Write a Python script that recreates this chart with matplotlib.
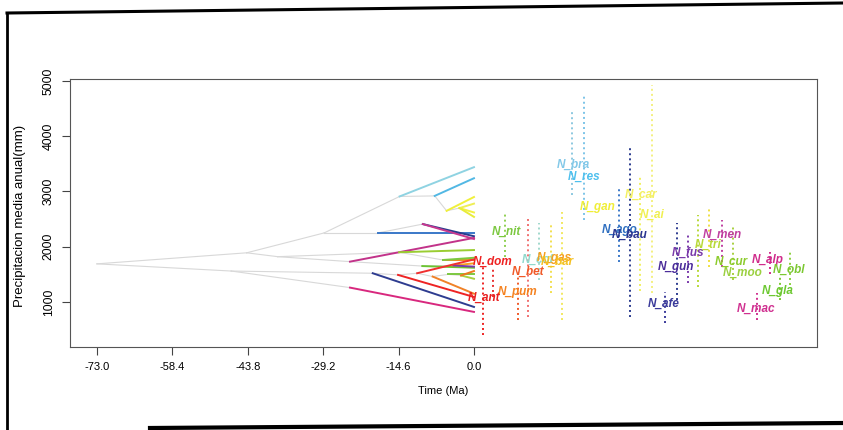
import matplotlib
matplotlib.use("Agg")
import matplotlib.pyplot as plt
from matplotlib import font_manager
from matplotlib.lines import Line2D

# Tree nodes: time (Ma) and reconstructed precipitation (mm)
node_names = ["R", "A", "L", "B", "M", "C", "C2", "Y", "Y2", "D", "N", "P", "G",
              "H", "I", "J", "Q", "U", "R1", "R2", "R3", "R4", "R5"]
node_time = [-73.0, -44.0, -47.0, -29.0, -38.0, -14.4, -7.6, -5.3, -2.8, -18.6, -9.9,
             -24.0, -14.5, -10.0, -6.0, -4.0, -24.0, -19.6, -14.7, -11.0, -8.0, -5.0, -2.5]
node_value = [1690, 1890, 1560, 2250, 1820, 2910, 2920, 2650, 2700, 2250, 2410,
              1730, 1900, 1650, 1760, 1660, 1260, 1520, 1490, 1520, 1460, 1500, 1480]

# Internal (grey) branches
gray_from = ["R", "R", "A", "A", "B", "B", "C", "C2", "Y", "D", "M", "M", "P", "G", "H",
             "L", "L", "U", "R1", "R2", "R3", "R4"]
gray_to = ["A", "L", "B", "M", "C", "D", "C2", "Y", "Y2", "N", "P", "G", "H", "I", "J",
           "Q", "U", "R1", "R2", "R3", "R4", "R5"]

# Terminal (coloured) branches, all ending at time 0
tip_parent = ["C", "C2", "Y", "Y2", "Y2", "Y2", "D", "N", "N", "P", "G", "I", "I", "H",
              "J", "J", "Q", "U", "R1", "R2", "R3", "R4", "R5", "R5"]
tip_value = [3440, 3240, 2900, 2780, 2620, 2540, 2250, 2190, 2140, 2160, 1940, 1760, 1800,
             1620, 1700, 1640, 820, 910, 1090, 1770, 1150, 1500, 1420, 1560]
tip_color = ["#8fd3e2", "#52b8e4", "#f0f03a", "#eeee55", "#f2f240", "#e8ec3a", "#3a78c8",
             "#2b3c8e", "#c8388e", "#c2338a", "#9acd32", "#f08a20", "#7cc840", "#6cc432",
             "#f5a020", "#7a3aaa", "#d8287e", "#2e3c90", "#ee2424", "#f03030", "#f08228",
             "#7cc840", "#a8d040", "#f07820"]

# Species labels
label_names = ["N_bra", "N_res", "N_gan", "N_car", "N_ai", "N_ago", "N_bau", "N_nit",
               "N_dom", "N_col", "N_gas", "N_bar", "N_bet", "N_pum", "N_ant", "N_gun",
               "N_fus", "N_tri", "N_men", "N_cur", "N_alp", "N_moo", "N_obl", "N_gla",
               "N_mac", "N_afe"]
label_x = [16.1, 18.2, 20.5, 29.2, 32.1, 24.8, 26.7, 3.5, -0.2, 9.3, 12.2, 13.0, 7.4, 4.6,
           -1.2, 35.6, 38.3, 42.8, 44.2, 46.7, 53.8, 48.2, 57.9, 55.8, 50.9, 33.7]
label_y = [3480, 3263, 2720, 2937, 2575, 2300, 2210, 2267, 1724, 1760, 1796, 1720, 1543,
           1181, 1072, 1634, 1887, 2032, 2213, 1724, 1760, 1525, 1579, 1199, 873, 964]
label_colors = ["#82c8e8", "#4ec0ee", "#f0ee38", "#f4f060", "#f0f050", "#2f6fc0", "#2a3590",
                "#7cc840", "#ee2222", "#90d8cc", "#f5a020", "#f4c020", "#f05a28", "#f58220",
                "#e82020", "#4b2c9a", "#7a3aaa", "#b8d838", "#c040a0", "#8ccb2c", "#d02c8c",
                "#9bd040", "#7cc832", "#6cc830", "#d03090", "#3a3a9a"]

# Dotted ranges
bar_x = [1.7, 3.7, 6.0, 8.5, 10.5, 12.6, 14.9, 17.0, 19.0, 21.3, 28.1, 30.2, 34.5, 32.2,
         37.0, 39.3, 41.4, 43.4, 45.5, 48.0, 50.2, 54.8, 59.3, 57.3, 61.2]
bar_lo = [403, 1090, 1815, 674, 728, 1398, 1163, 674, 2937, 2484, 1724, 728, 1163, 1200,
          620, 1036, 1344, 1272, 1634, 1634, 1398, 674, 1036, 1500, 1300]
bar_hi = [1724, 1634, 2629, 1543, 2539, 2430, 2430, 2629, 4439, 4747, 3082, 3806, 4928, 3300,
          1181, 2430, 2249, 2575, 2701, 2484, 2358, 1163, 1453, 1900, 1900]
bar_colors = ["#ee2222", "#e83030", "#8fd050", "#f05a28", "#f07070", "#a0d8cc", "#f2e050",
              "#f2e860", "#8cc8e0", "#7cc4e8", "#3a78c8", "#2b3c8e", "#f4f080", "#f0f060",
              "#3a3a9a", "#2e3c90", "#7a3aaa", "#b8d838", "#f0e040", "#c040a0", "#a8d040",
              "#d03090", "#7cc832", "#d02c8c", "#8cd040"]

x_ticks = [-73.0, -58.4, -43.8, -29.2, -14.6, 0.0]
y_ticks = [1000, 2000, 3000, 4000, 5000]

# narrow font for the time axis if available
installed = {f.name for f in font_manager.fontManager.ttflist}
if "Liberation Sans Narrow" in installed:
    narrow, narrow_size = "Liberation Sans Narrow", 9.5
else:
    narrow, narrow_size = "Liberation Sans", 8

W, H = 843, 430
fig = plt.figure(figsize=(W / 100, H / 100), dpi=100)
ax = fig.add_axes([70 / W, 1 - 347 / H, (817 - 70) / W, (347 - 79) / H])

pos = {n: (t, v) for n, t, v in zip(node_names, node_time, node_value)}

for a, b in zip(gray_from, gray_to):
    ax.plot([pos[a][0], pos[b][0]], [pos[a][1], pos[b][1]], color="#d8d8d8", lw=0.8, zorder=1)

for p, v, c in zip(tip_parent, tip_value, tip_color):
    ax.plot([pos[p][0], 0.0], [pos[p][1], v], color=c, lw=1.4, zorder=2)

for x, lo, hi, c in zip(bar_x, bar_lo, bar_hi, bar_colors):
    ax.plot([x, x], [lo, hi], color=c, lw=1.4, linestyle=(0, (1, 1.6)), zorder=2)

for name, x, y, c in zip(label_names, label_x, label_y, label_colors):
    ax.text(x, y, name, color=c, fontsize=8.5, fontweight="bold", fontstyle="italic",
            family="Liberation Sans", ha="left", va="center", zorder=3)

ax.set_xlim(-78.2, 66.4)
ax.set_ylim(185, 5036)
ax.set_xticks(x_ticks)
ax.set_xticklabels([f"{t:.1f}" for t in x_ticks], family=narrow, fontsize=narrow_size)
ax.set_yticks(y_ticks)
ax.set_yticklabels([str(t) for t in y_ticks], rotation=90, va="center",
                   family="Liberation Sans", fontsize=8.8)
ax.tick_params(length=6, width=0.8, color="#444444", pad=5)
for s in ax.spines.values():
    s.set_color("#555555")
    s.set_linewidth(0.8)

ax.set_xlabel("Time (Ma)", family=narrow, fontsize=narrow_size, labelpad=10)
fig.text(20 / W, 1 - 216 / H, "Precipitacion media anual(mm)", rotation=90,
         ha="center", va="center", family="Liberation Sans", fontsize=9.5)

# scanned page frame
fig.add_artist(Line2D([7 / W, 7 / W], [1 - 430 / H, 1 - 13 / H], color="black", lw=2))
fig.add_artist(Line2D([7 / W, 1.0], [1 - 13 / H, 1 - 3 / H], color="black", lw=2.2))
fig.add_artist(Line2D([150 / W, 1.0], [1 - 428 / H, 1 - 423 / H], color="black", lw=3))

fig.savefig("out.png", dpi=100)
